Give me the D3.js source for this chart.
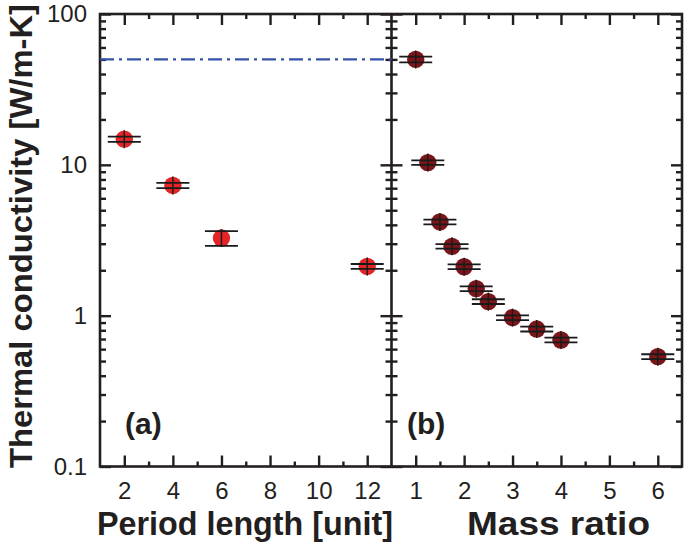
<!DOCTYPE html>
<html>
<head>
<meta charset="utf-8">
<script src="https://cdn.jsdelivr.net/npm/d3@7"></script>
<style>
  html, body { margin: 0; padding: 0; background: #fff; }
  svg { display: block; }
  text { font-family: "Liberation Sans", Arial, Helvetica, sans-serif; fill: #231f20; }
</style>
</head>
<body>
<svg id="chart" width="685" height="544"></svg>
<script>
// ---------- data ----------
const periodLength = [2, 4, 6, 12];
const periodKappa = [14.8, 7.3, 3.27, 2.12];
const periodErr = [0.6, 0.3, 0.37, 0.08];

const massRatio = [1, 1.25, 1.5, 1.75, 2, 2.25, 2.5, 3, 3.5, 4, 6];
const massKappa = [50, 10.35, 4.18, 2.88, 2.11, 1.51, 1.24, 0.97, 0.815, 0.69, 0.535];
const massErr = [2.2, 0.35, 0.15, 0.1, 0.075, 0.055, 0.045, 0.035, 0.03, 0.025, 0.02];

const referenceKappa = 50;

const yMajorTicks = [0.1, 1, 10, 100];
const yTickLabels = ["0.1", "1", "10", "100"];
const xMajorA = [2, 4, 6, 8, 10, 12];
const xMinorA = [3, 5, 7, 9, 11];
const xMajorB = [1, 2, 3, 4, 5, 6];
const xMinorB = [1.5, 2.5, 3.5, 4.5, 5.5];

// ---------- layout ----------
const svg = d3.select("#chart");
const pL = 100, pT = 14, pB = 466.5, pM = 391.5, pR = 682;
const ink = "#231f20";

const y = d3.scaleLog().domain([0.1, 100]).range([pB, pT]);
const xA = d3.scaleLinear().domain([1, 13]).range([pL, pM]);
const xB = d3.scaleLinear().domain([0.5, 6.5]).range([pM, pR]);

const yMinor = [];
[0.1, 1, 10].forEach(d => { for (let k = 2; k <= 9; k++) yMinor.push(+(d * k).toPrecision(3)); });

function styleAxis(g) {
  g.select(".domain").remove();
  g.selectAll(".tick line").attr("stroke", ink).attr("stroke-width", 2.4);
  g.selectAll(".tick text").style("font-size", "24px").attr("fill", ink);
}

function panel(x, xMajor, xMinor, x0, x1, showYLabels) {
  svg.append("g").attr("transform", `translate(0,${pB})`)
    .call(d3.axisBottom(x).tickValues(xMajor).tickSize(-11).tickPadding(15).tickFormat(d3.format("d")))
    .call(styleAxis);
  svg.append("g").attr("transform", `translate(0,${pB})`)
    .call(d3.axisBottom(x).tickValues(xMinor).tickSize(-5).tickFormat(""))
    .call(styleAxis);
  svg.append("g").attr("transform", `translate(0,${pT})`)
    .call(d3.axisTop(x).tickValues(xMajor).tickSize(-11).tickFormat(""))
    .call(styleAxis);
  svg.append("g").attr("transform", `translate(0,${pT})`)
    .call(d3.axisTop(x).tickValues(xMinor).tickSize(-5).tickFormat(""))
    .call(styleAxis);
  const la = d3.axisLeft(y).tickValues(yMajorTicks).tickSize(-11).tickPadding(13)
    .tickFormat(showYLabels ? (d, i) => yTickLabels[i] : "");
  svg.append("g").attr("transform", `translate(${x0},0)`).call(la).call(styleAxis);
  svg.append("g").attr("transform", `translate(${x0},0)`)
    .call(d3.axisLeft(y).tickValues(yMinor).tickSize(-6).tickFormat("")).call(styleAxis);
  svg.append("g").attr("transform", `translate(${x1},0)`)
    .call(d3.axisRight(y).tickValues(yMajorTicks).tickSize(-11).tickFormat("")).call(styleAxis);
  svg.append("g").attr("transform", `translate(${x1},0)`)
    .call(d3.axisRight(y).tickValues(yMinor).tickSize(-6).tickFormat("")).call(styleAxis);
}

panel(xA, xMajorA, xMinorA, pL, pM, true);
panel(xB, xMajorB, xMinorB, pM, pR, false);

svg.append("rect").attr("x", pL).attr("y", pT)
  .attr("width", pR - pL).attr("height", pB - pT)
  .attr("fill", "none").attr("stroke", ink).attr("stroke-width", 2.6);
svg.append("line").attr("x1", pM).attr("x2", pM).attr("y1", pT).attr("y2", pB)
  .attr("stroke", ink).attr("stroke-width", 2.6);

svg.append("line")
  .attr("x1", xA(1)).attr("x2", xA(13))
  .attr("y1", y(referenceKappa)).attr("y2", y(referenceKappa))
  .attr("stroke", "#3452a6").attr("stroke-width", 2.4)
  .attr("stroke-dasharray", "14,5,3,5");

function drawPoints(x, xs, vals, errs, fill) {
  const g = svg.append("g");
  xs.forEach((xv, i) => {
    const cx = x(xv), cy = y(vals[i]);
    const yHi = y(vals[i] + errs[i]), yLo = y(vals[i] - errs[i]);
    g.append("circle").attr("cx", cx).attr("cy", cy).attr("r", 8.7).attr("fill", fill);
    g.append("line").attr("x1", cx).attr("x2", cx)
      .attr("y1", Math.min(yHi, cy - 9)).attr("y2", Math.max(yLo, cy + 9))
      .attr("stroke", "#1a1a1a").attr("stroke-width", 1.4);
    [yHi, yLo].forEach(yy => {
      g.append("line").attr("x1", cx - 16.5).attr("x2", cx + 16.5)
        .attr("y1", yy).attr("y2", yy)
        .attr("stroke", "#1a1a1a").attr("stroke-width", 1.8);
    });
  });
}
drawPoints(xA, periodLength, periodKappa, periodErr, "#e42527");
drawPoints(xB, massRatio, massKappa, massErr, "#7c1519");

svg.append("text").attr("x", 125).attr("y", 434).style("font-size", "30px").style("font-weight", "bold").text("(a)");
svg.append("text").attr("x", 407).attr("y", 434).style("font-size", "30px").style("font-weight", "bold").text("(b)");

svg.append("text").attr("x", 97).attr("y", 535)
  .attr("textLength", 296).attr("lengthAdjust", "spacingAndGlyphs")
  .style("font-size", "34px").style("font-weight", "bold").text("Period length [unit]");
svg.append("text").attr("x", 467).attr("y", 535)
  .attr("textLength", 183).attr("lengthAdjust", "spacingAndGlyphs")
  .style("font-size", "34px").style("font-weight", "bold").text("Mass ratio");
svg.append("text").attr("transform", "translate(32,468) rotate(-90)")
  .attr("textLength", 464).attr("lengthAdjust", "spacingAndGlyphs")
  .style("font-size", "32px").style("font-weight", "bold").text("Thermal conductivity [W/m-K]");
</script>
</body>
</html>
